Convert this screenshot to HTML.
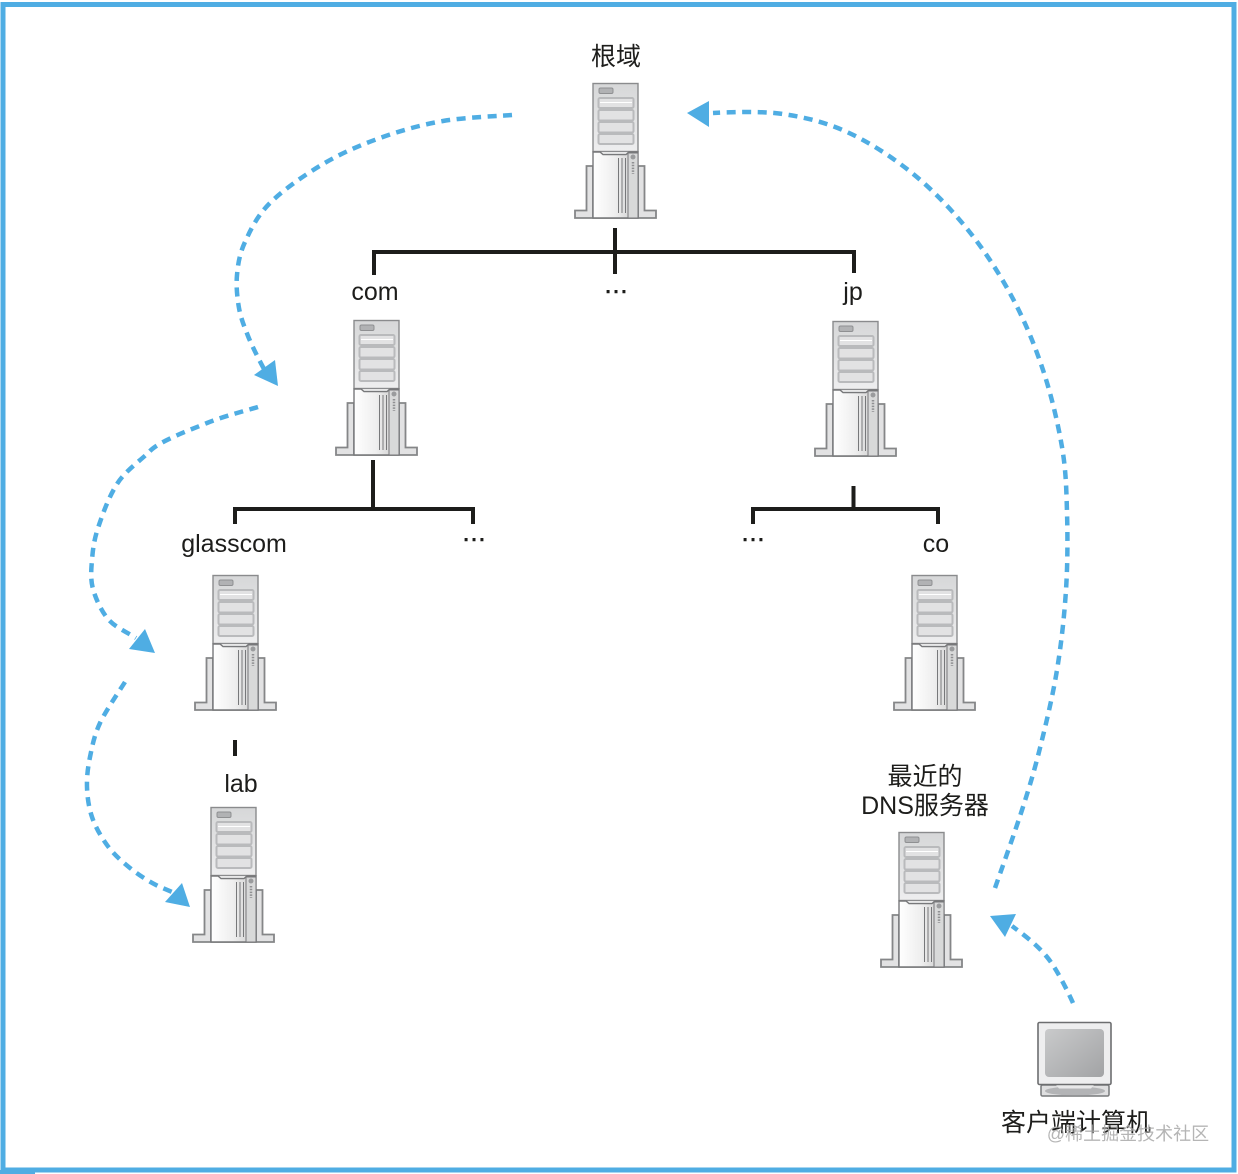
<!DOCTYPE html>
<html>
<head>
<meta charset="utf-8">
<style>
html,body{margin:0;padding:0;background:#fff;width:1238px;height:1174px;overflow:hidden}
svg{display:block}
text{font-family:"Liberation Sans","Noto Sans CJK SC",sans-serif;fill:#1d1d1b;font-size:25px;text-anchor:middle}
.e{stroke:#1d1d1b;stroke-width:.6}
.d{fill:none;stroke:#4fade3;stroke-width:4.500;stroke-dasharray:9 6.5}
.a{fill:#4fade3}
.c{fill:none;stroke:#1d1d1b;stroke-width:4}
</style>
</head>
<body>
<svg width="1238" height="1174" viewBox="0 0 1238 1174" xmlns="http://www.w3.org/2000/svg">
<defs>
<linearGradient id="g1" x1="0" y1="0" x2="0" y2="1"><stop offset="0" stop-color="#d6d7d8"/><stop offset="1" stop-color="#eeeeef"/></linearGradient>
<linearGradient id="g2" x1="0" y1="0" x2="1" y2="0"><stop offset="0" stop-color="#ffffff"/><stop offset="0.5" stop-color="#eeeeee"/><stop offset="1" stop-color="#c9c9c9"/></linearGradient>
<linearGradient id="g3" x1="0" y1="0" x2="1" y2="1"><stop offset="0" stop-color="#c9cacb"/><stop offset="1" stop-color="#a2a3a5"/></linearGradient>
<g id="srv">
<path d="M12.500 83V127.500H1V135H82V127.500H70.500V83H64V135H19V83Z" fill="#e2e2e3" stroke="#858688" stroke-width="1.800"/>
<rect x="19" y="0.500" width="45" height="68" fill="url(#g1)" stroke="#8a8b8d" stroke-width="1.400"/>
<path d="M19 69H26L29 71.500H52L55 69H64V135H19Z" fill="url(#g2)" stroke="#77787a" stroke-width="1.400"/>
<rect x="54" y="70" width="10" height="65" fill="#d8d9d9" stroke="#77787a" stroke-width="1"/>
<rect x="25" y="5" width="14" height="5.500" rx="1.500" fill="#b1b2b4" stroke="#8f9092" stroke-width="1"/>
<g fill="#e2e2e3" stroke="#b9babc" stroke-width="2">
<rect x="24.500" y="15" width="35" height="10" rx="1.500"/>
<rect x="24.500" y="27" width="35" height="10.500" rx="1.500"/>
<rect x="24.500" y="39" width="35" height="10.500" rx="1.500"/>
<rect x="24.500" y="51" width="35" height="10" rx="1.500"/>
</g>
<path d="M26 19.500H58" stroke="#fff" stroke-width="1"/>
<g stroke="#77787a" stroke-width="1"><path d="M44.500 75V130M48 75V130M51.500 75V130"/></g>
<circle cx="59" cy="74" r="2.500" fill="#9a9b9d"/>
<path d="M59 79V91" stroke="#8f9092" stroke-width="2.500" stroke-dasharray="1.500 1.300"/>
</g>
</defs>

<rect width="1238" height="1174" fill="#fff"/>
<rect x="3" y="4.500" width="1231" height="1165.500" fill="none" stroke="#4fade3" stroke-width="5"/>
<rect x="0" y="1170" width="35" height="4" fill="#4fade3"/>

<use href="#srv" x="574" y="83"/>
<use href="#srv" x="335" y="320"/>
<use href="#srv" x="814" y="321"/>
<use href="#srv" x="194" y="575"/>
<use href="#srv" x="893" y="575"/>
<use href="#srv" x="192" y="807"/>
<use href="#srv" x="880" y="832"/>

<path class="c" d="M374 275V252H854V273"/>
<path class="c" d="M615 228V274"/>
<path class="c" d="M373 460V508"/>
<path class="c" d="M235 524V509H473V524"/>
<path class="c" d="M853.500 486V508"/>
<path class="c" d="M753 524V509H938V524"/>
<path class="c" d="M235 740V756"/>

<text x="616" y="65">根域</text>
<text x="375" y="300">com</text>
<text class="e" x="616" y="293">…</text>
<text x="853" y="300">jp</text>
<text x="234" y="552">glasscom</text>
<text class="e" x="474" y="541">…</text>
<text class="e" x="753" y="541">…</text>
<text x="936" y="552">co</text>
<text x="241" y="792">lab</text>
<text x="925" y="785">最近的</text>
<text x="925" y="814">DNS服务器</text>
<text x="1076" y="1131">客户端计算机</text>
<text x="1128" y="1140" style="font-size:18px;fill:#a9a9a9;opacity:.85">@稀土掘金技术社区</text>

<path class="d" d="M512 115C500.500 116 465 117.200 443 121C421 124.800 400 130.800 380 138C360 145.200 341.300 153.200 323 164C304.700 174.800 283 190 270 203C257 216 250.500 230 245 242C239.500 254 238 264 237 275C236 286 237.200 297.800 239 308C240.800 318.200 244.200 326.300 248 336C251.800 345.700 259.700 361 264 369"/>
<polygon class="a" points="278,386 275,360 254,375"/>
<path class="d" d="M258 407C249.500 409.700 225 415.700 207 423C189 430.300 159.500 441.200 150 451C140.500 460.800 125.700 470.200 117 484C108.300 497.800 102.200 515.300 98 528C93.800 540.700 92.800 550.200 92 560C91.200 569.800 90.300 579.200 93 589C95.700 598.800 101.300 611 108 619C114.700 627 125 631 136 638"/>
<polygon class="a" points="155,653 145,629 129,649"/>
<path class="d" d="M125 682C120.800 688.800 105.800 710.500 100 723C94.200 735.500 92.200 746.300 90 757C87.800 767.700 86.700 777 87 787C87.300 797 88.700 807.300 92 817C95.300 826.700 100.700 836.200 107 845C113.300 853.800 121.500 861.200 130 868C138.500 874.800 148 881 158 886L172 892"/>
<polygon class="a" points="190,907 182,883 165,902"/>
<path class="d" d="M995 888C999.500 875 1014.500 833.300 1022 810C1029.500 786.700 1034.200 771.300 1040 748C1045.800 724.700 1052.700 696.300 1057 670C1061.300 643.700 1064.300 616.300 1066 590C1067.700 563.700 1067.700 535.800 1067 512C1066.300 488.200 1066 470.700 1062 447C1058 423.300 1051.300 395 1043 370C1034.700 345 1024.500 320.300 1012 297C999.500 273.700 984.700 250.700 968 230C951.300 209.300 932.200 189.300 912 173C891.800 156.700 868.500 141.800 847 132C825.500 122.200 805 117.300 783 114C761 110.700 726.300 112.300 713 113"/>
<polygon class="a" points="687,113 709,101 709,127"/>
<path class="d" d="M1073 1003C1069 994 1057 969 1047 957C1037 945 1028 938 1012 926"/>
<polygon class="a" points="990,916 1016,914 1005,937"/>

<g>
<rect x="1041" y="1085" width="68" height="11" rx="1.500" fill="#dfdfe0" stroke="#77787a" stroke-width="1.500"/>
<ellipse cx="1075" cy="1091" rx="30" ry="4.500" fill="#b3b4b6"/>
<path d="M1056 1085H1094L1091 1088.500H1059Z" fill="#e8e8e9"/>
<rect x="1038" y="1022.500" width="73" height="62" rx="1.500" fill="#eeeeef" stroke="#6d6e70" stroke-width="1.600"/>
<rect x="1045" y="1029" width="59" height="48" rx="4" fill="url(#g3)"/>
</g>
</svg>
</body>
</html>
